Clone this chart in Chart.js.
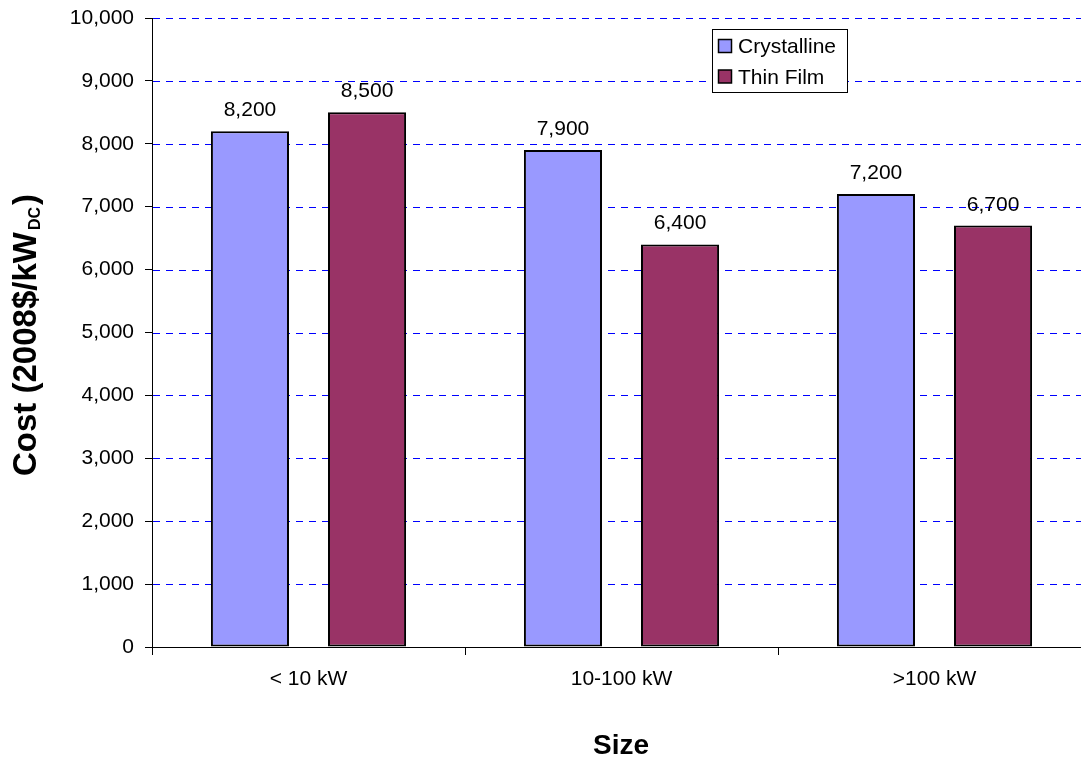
<!DOCTYPE html>
<html>
<head>
<meta charset="utf-8">
<script src="https://cdn.jsdelivr.net/npm/chart.js@4/dist/chart.umd.min.js"></script>
<style>
html,body{margin:0;padding:0;overflow:hidden;background:#fff;}
canvas{display:block;}
</style>
</head>
<body>
<canvas id="c" width="1100" height="759"></canvas>
<script>
const categories = ['< 10 kW', '10-100 kW', '>100 kW'];
const crystalline = [8200, 7900, 7200];
const thinFilm = [8500, 6400, 6700];
const seriesNames = ['Crystalline', 'Thin Film'];
const seriesColors = ['#9999FF', '#993366'];
const yTitleMain = 'Cost (2008$/kW';
const yTitleSub = 'DC';
const yTitleEnd = ')';
const xTitle = 'Size';

const FONT = '"Liberation Sans", Arial, sans-serif';
const fmt = v => v.toLocaleString('en-US');

const extrasPlugin = {
  id: 'extras',
  beforeDatasetsDraw(chart) {
    const ctx = chart.ctx;
    const area = chart.chartArea;
    const ys = chart.scales.y;
    ctx.save();
    ctx.strokeStyle = '#0000FF';
    ctx.lineWidth = 1;
    ctx.setLineDash([7, 6]);
    ys.ticks.forEach(t => {
      if (t.value === 0) return;
      const py = Math.round(ys.getPixelForValue(t.value)) + 0.5;
      ctx.beginPath();
      ctx.moveTo(area.left + 1, py);
      ctx.lineTo(area.right, py);
      ctx.stroke();
    });
    ctx.restore();
  },
  afterDatasetsDraw(chart) {
    const ctx = chart.ctx;
    ctx.save();
    ctx.font = '21px ' + FONT;
    ctx.fillStyle = '#000';
    ctx.textAlign = 'center';
    ctx.textBaseline = 'alphabetic';
    chart.data.datasets.forEach((ds, i) => {
      chart.getDatasetMeta(i).data.forEach((bar, j) => {
        ctx.fillText(fmt(ds.data[j]), bar.x, bar.y - 15);
      });
    });
    ctx.restore();
  },
  afterDraw(chart) {
    const ctx = chart.ctx;
    ctx.save();
    // legend
    const lx = 712, ly = 29, lw = 135, lh = 63;
    ctx.fillStyle = '#fff';
    ctx.fillRect(lx, ly, lw, lh);
    ctx.strokeStyle = '#000';
    ctx.lineWidth = 1;
    ctx.strokeRect(lx + 0.5, ly + 0.5, lw, lh);
    ctx.font = '21px ' + FONT;
    ctx.textBaseline = 'middle';
    ctx.textAlign = 'left';
    const rows = [46.5, 77];
    chart.data.datasets.forEach((ds, i) => {
      const cy = rows[i];
      ctx.fillStyle = ds.backgroundColor;
      ctx.fillRect(718.5, cy - 7, 13, 13);
      ctx.strokeStyle = '#000';
      ctx.lineWidth = 1.5;
      ctx.strokeRect(718.5, cy - 7, 13, 13);
      ctx.fillStyle = '#000';
      ctx.fillText(ds.label, 738, cy + 1);
    });
    // x title
    ctx.font = 'bold 28px ' + FONT;
    ctx.textAlign = 'center';
    ctx.textBaseline = 'alphabetic';
    ctx.fillText(xTitle, 621, 754);
    // y title
    ctx.translate(36, 335);
    ctx.rotate(-Math.PI / 2);
    const mainFont = 'bold 33px ' + FONT;
    const subFont = 'bold 16px ' + FONT;
    ctx.font = mainFont;
    const w1 = ctx.measureText(yTitleMain).width;
    ctx.font = subFont;
    const w2 = ctx.measureText(yTitleSub).width;
    ctx.font = mainFont;
    const w3 = ctx.measureText(yTitleEnd).width;
    const gap = 2;
    const total = w1 + gap + w2 + gap + w3;
    const x0 = -total / 2;
    ctx.textAlign = 'left';
    ctx.fillText(yTitleMain, x0, 0);
    ctx.font = subFont;
    ctx.fillText(yTitleSub, x0 + w1 + gap, 4);
    ctx.font = mainFont;
    ctx.fillText(yTitleEnd, x0 + w1 + gap + w2 + gap, 0);
    ctx.restore();
  }
};

new Chart(document.getElementById('c'), {
  type: 'bar',
  data: {
    labels: categories,
    datasets: [
      { label: seriesNames[0], data: crystalline, backgroundColor: seriesColors[0], borderColor: '#000', borderWidth: 2, borderSkipped: false },
      { label: seriesNames[1], data: thinFilm, backgroundColor: seriesColors[1], borderColor: '#000', borderWidth: 2, borderSkipped: false }
    ]
  },
  options: {
    responsive: false,
    animation: false,
    devicePixelRatio: 1,
    categoryPercentage: 0.748,
    barPercentage: 0.667,
    layout: { padding: { top: 18, right: 9, left: 0, bottom: 0 } },
    plugins: { legend: { display: false }, tooltip: { enabled: false } },
    scales: {
      x: {
        offset: true,
        grid: { display: true, drawOnChartArea: false, drawTicks: true, tickLength: 8, color: '#000', offset: true },
        border: { display: true, color: '#000', width: 1 },
        ticks: { color: '#000', font: { family: FONT, size: 21 }, padding: 12, maxRotation: 0 },
        afterFit(s) { s.height = 112; }
      },
      y: {
        min: 0, max: 10000,
        grid: { display: true, drawOnChartArea: false, drawTicks: true, tickLength: 7, color: '#000' },
        border: { display: true, color: '#000', width: 1 },
        ticks: { stepSize: 1000, color: '#000', font: { family: FONT, size: 21, lineHeight: 0.4 }, padding: 11, callback: v => fmt(v) },
        afterFit(s) { s.width = 152; }
      }
    }
  },
  plugins: [extrasPlugin]
});
</script>
</body>
</html>
